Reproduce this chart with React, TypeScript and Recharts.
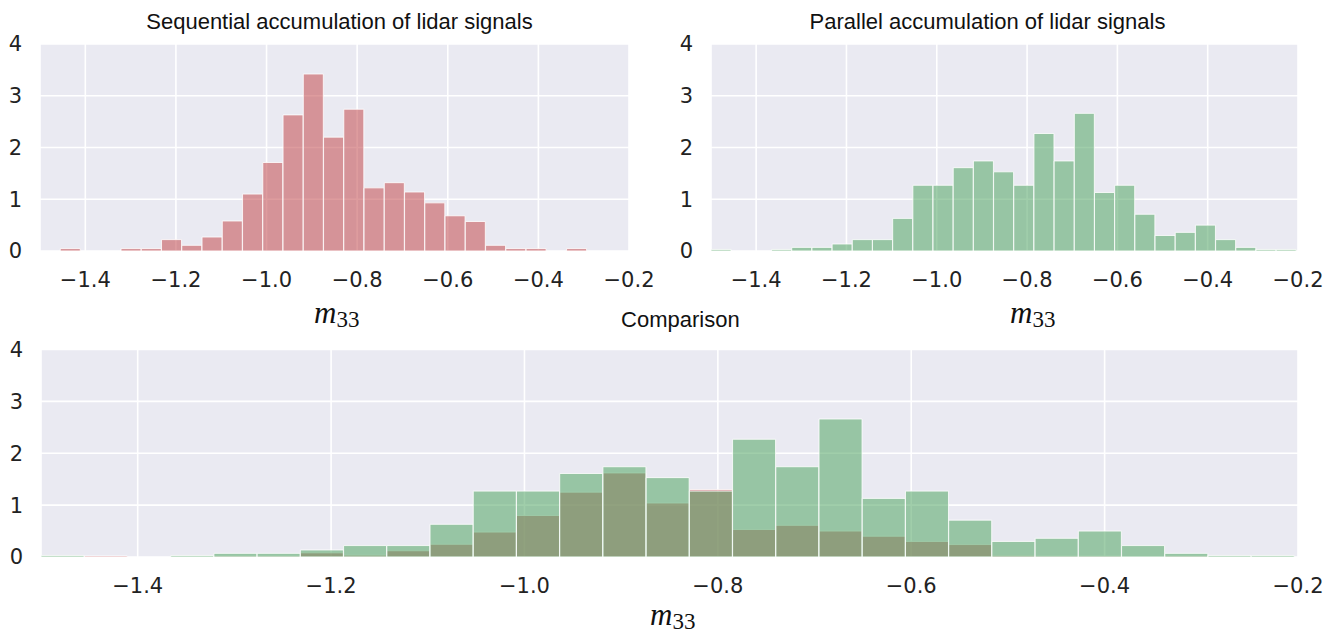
import React from 'react';
import { BarChart, Bar, XAxis, YAxis, CartesianGrid } from 'recharts';

// Histogram bin centres (m33), shared by all panels
const binCenters = [
  -1.4776, -1.4329, -1.3882, -1.3435, -1.2988, -1.2541, -1.2094, -1.1647, -1.12, -1.0753,
  -1.0306, -0.9859, -0.9412, -0.8965, -0.8518, -0.8071, -0.7624, -0.7177, -0.673, -0.6283,
  -0.5836, -0.5389, -0.4942, -0.4495, -0.4048, -0.3601, -0.3154, -0.2707, -0.226,
];

// Sequential accumulation (top-left panel) – density
const sequentialDensity = [
  0, 0.047, 0, 0, 0.047, 0.047, 0.22, 0.11, 0.27, 0.58,
  1.1, 1.71, 2.63, 3.42, 2.2, 2.74, 1.22, 1.32, 1.14, 0.93,
  0.68, 0.57, 0.11, 0.047, 0.047, 0, 0.047, 0, 0,
];

// Parallel accumulation (top-right panel and comparison) – density
const parallelDensity = [
  0.03, 0, 0, 0.03, 0.07, 0.07, 0.135, 0.22, 0.22, 0.63,
  1.27, 1.27, 1.61, 1.74, 1.53, 1.27, 2.27, 1.74, 2.66, 1.13,
  1.27, 0.71, 0.3, 0.36, 0.5, 0.22, 0.07, 0.03, 0.03,
];

// Sequential series as drawn in the comparison panel
const comparisonSequential = [
  0, 0.02, 0, 0, 0.02, 0.02, 0.08, 0.035, 0.12, 0.245,
  0.48, 0.8, 1.25, 1.62, 1.04, 1.3, 0.53, 0.61, 0.5, 0.4,
  0.3, 0.24, 0.03, 0.02, 0.02, 0, 0.02, 0, 0,
];

const xTicks = [-1.4, -1.2, -1.0, -0.8, -0.6, -0.4, -0.2];
const yTicks = [0, 1, 2, 3, 4];
const xDomain = [-1.5, -0.2];
const yDomain = [0, 4];

const titles = {
  sequential: 'Sequential accumulation of lidar signals',
  parallel: 'Parallel accumulation of lidar signals',
  comparison: 'Comparison',
};

const seqData = binCenters.map((x, i) => ({ x, v: sequentialDensity[i] }));
const parData = binCenters.map((x, i) => ({ x, v: parallelDensity[i] }));
const cmpData = binCenters.map((x, i) => ({
  x,
  seq: comparisonSequential[i],
  par: parallelDensity[i],
}));

const RED = '#c44e52';
const GREEN = '#55a868';
const BG = '#eaeaf2';
const OPACITY = 0.56;
const TICK = { fontFamily: 'DejaVu Sans', fontSize: 21, fill: '#222222' };

const fmtX = (v: number) => v.toFixed(1).replace('-', '\u2212');

function Panel({ data, color, width, height, margin, yWidth, xHeight }: any) {
  return (
    <BarChart width={width} height={height} data={data} margin={margin} barCategoryGap={0} barGap={0}>
      <CartesianGrid fill={BG} stroke="#ffffff" strokeWidth={1.6} />
      <XAxis
        type="number"
        dataKey="x"
        domain={xDomain}
        ticks={xTicks}
        allowDataOverflow
        interval={0}
        tickFormatter={fmtX}
        axisLine={false}
        tickLine={false}
        tickSize={0}
        tickMargin={21}
        height={xHeight}
        tick={TICK}
      />
      <YAxis
        type="number"
        domain={yDomain}
        ticks={yTicks}
        allowDataOverflow
        interval={0}
        axisLine={false}
        tickLine={false}
        tickSize={0}
        tickMargin={18}
        width={yWidth}
        tick={TICK}
      />
      <Bar
        dataKey="v"
        fill={color}
        fillOpacity={OPACITY}
        stroke="#ffffff"
        strokeOpacity={0.8}
        strokeWidth={1}
        isAnimationActive={false}
      />
    </BarChart>
  );
}

function M33({ x, y }: { x: number; y: number }) {
  return (
    <text x={x} y={y} fontFamily="Liberation Serif" fill="#111">
      <tspan fontStyle="italic" fontSize={31}>m</tspan>
      <tspan fontSize={23} dy={4}>33</tspan>
    </text>
  );
}

export default function App() {
  return (
    <div style={{ position: 'absolute', left: 0, top: 0, width: 1338, height: 637, background: '#ffffff', overflow: 'hidden' }}>
      <div style={{ position: 'absolute', left: 0, top: 0 }}>
        <Panel
          data={seqData}
          color={RED}
          width={670}
          height={340}
          margin={{ top: 44, right: 41, bottom: 0, left: 0 }}
          yWidth={40}
          xHeight={89}
        />
      </div>
      <div style={{ position: 'absolute', left: 660, top: 0 }}>
        <Panel
          data={parData}
          color={GREEN}
          width={678}
          height={340}
          margin={{ top: 44, right: 40, bottom: 0, left: 0 }}
          yWidth={51}
          xHeight={89}
        />
      </div>
      <div style={{ position: 'absolute', left: 0, top: 300 }}>
        <BarChart
          width={1338}
          height={337}
          data={cmpData}
          margin={{ top: 49.5, right: 40, bottom: 0, left: 0 }}
          barCategoryGap={0}
          barGap={0}
        >
          <CartesianGrid xAxisId="a" fill={BG} stroke="#ffffff" strokeWidth={1.6} />
          <XAxis
            xAxisId="a"
            type="number"
            dataKey="x"
            domain={xDomain}
            ticks={xTicks}
            allowDataOverflow
            interval={0}
            tickFormatter={fmtX}
            axisLine={false}
            tickLine={false}
            tickSize={0}
            tickMargin={21}
            height={80}
            tick={TICK}
          />
          <XAxis xAxisId="b" type="number" dataKey="x" domain={xDomain} allowDataOverflow hide height={0} />
          <YAxis
            type="number"
            domain={yDomain}
            ticks={yTicks}
            allowDataOverflow
            interval={0}
            axisLine={false}
            tickLine={false}
            tickSize={0}
            tickMargin={18}
            width={41}
            tick={TICK}
          />
          <Bar
            xAxisId="a"
            dataKey="seq"
            fill={RED}
            fillOpacity={OPACITY}
            stroke="#ffffff"
            strokeOpacity={0.8}
            strokeWidth={1}
            isAnimationActive={false}
          />
          <Bar
            xAxisId="b"
            dataKey="par"
            fill={GREEN}
            fillOpacity={OPACITY}
            stroke="#ffffff"
            strokeOpacity={0.8}
            strokeWidth={1}
            isAnimationActive={false}
          />
        </BarChart>
      </div>
      <svg width={1338} height={637} style={{ position: 'absolute', left: 0, top: 0, pointerEvents: 'none' }}>
        <g fontFamily="Liberation Sans" fontSize={22} fill="#111" textAnchor="middle">
          <text x={339.5} y={28.5}>{titles.sequential}</text>
          <text x={987.5} y={28.5}>{titles.parallel}</text>
          <text x={680.4} y={326.7}>{titles.comparison}</text>
        </g>
        <M33 x={314} y={323} />
        <M33 x={1010} y={323} />
        <M33 x={650} y={625} />
      </svg>
    </div>
  );
}
